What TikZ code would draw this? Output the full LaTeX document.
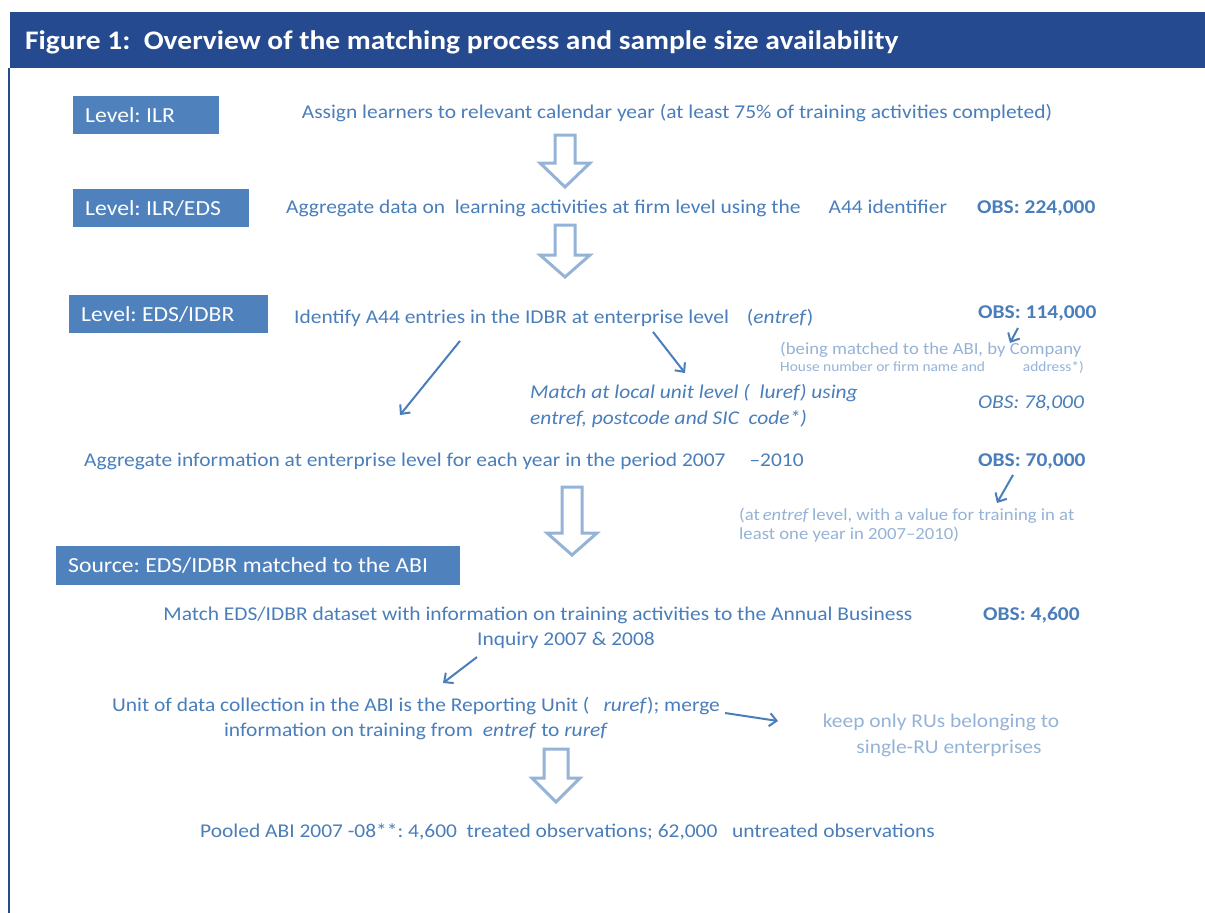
\documentclass[tikz,border=0pt]{standalone}
\usepackage{fontspec}
\setmainfont{Carlito}[FakeStretch=1.1]
\usetikzlibrary{arrows.meta,positioning}
\frenchspacing

\definecolor{headblue}{HTML}{254A8F}
\definecolor{boxblue}{HTML}{4F81BD}
\definecolor{textblue}{HTML}{4A7EBB}
\definecolor{paleblue}{HTML}{95B3D7}

\tikzstyle{level} = [fill=boxblue,text=white,anchor=north west,inner xsep=12pt,inner ysep=0pt,minimum height=38pt,align=flush left,font=\fontsize{21.5}{24}\selectfont]
\tikzstyle{step text} = [text=textblue,inner sep=0pt,font=\fontsize{19.5}{25}\selectfont]
\tikzstyle{obs} = [text=textblue,inner sep=0pt,anchor=west,font=\fontsize{19.5}{23}\selectfont\bfseries]
\tikzstyle{note} = [text=paleblue,inner sep=0pt,font=\fontsize{17}{19}\selectfont]
\tikzstyle{link} = [-{Straight Barb[length=7pt,width=13pt]},line width=2pt,textblue]
\tikzstyle{hollow} = [draw=paleblue,line width=3pt,fill=white,line join=miter]

% block arrow pointing down: x, top, wing, tip, half shaft, half head
\newcommand{\downblock}[6]{%
  \draw[hollow] (#1-#5,#2) -- (#1+#5,#2) -- (#1+#5,#3) -- (#1+#6,#3)
    -- (#1,#4) -- (#1-#6,#3) -- (#1-#5,#3) -- cycle;}

\begin{document}
\begin{tikzpicture}[x=1pt,y=-1pt]
  \useasboundingbox[fill=white] (0,0) rectangle (1205,913);

  % frame
  \node[fill=headblue,anchor=north west,minimum width=1195pt,minimum height=56pt,inner sep=0pt] (header) at (10,12) {};
  \node[anchor=west,text=white,inner sep=0pt,font=\fontsize{26.8}{28}\selectfont\bfseries] (title) at (25,42)
    {Figure 1:\ \ Overview of the matching process and sample size availability};
  \draw[headblue,line width=2pt] (header.south west) ++(-1,0) -- (9,913);

  % levels
  \node[level,text width=122pt] (lilr) at (73,96) {Level: ILR};
  \node[level,text width=152pt] (lilreds) at (73,189) {Level: ILR/EDS};
  \node[level,text width=175pt] (ledsidbr) at (69,295) {Level: EDS/IDBR};
  \node[level,text width=380pt,minimum height=39pt] (source) at (56,546) {Source: EDS/IDBR matched to the ABI};

  % first two steps
  \node[step text] (assign) at (677,113)
    {Assign learners to relevant calendar year (at least 75\% of training activities completed)};
  \downblock{565}{135}{163}{187}{10}{25}
  \node[step text,anchor=west] (aggfirm) at (286,208)
    {Aggregate data on\ \ learning activities at firm level using the\hspace{28pt}A44 identifier};
  \node[obs] (obs1) at (977,208) {OBS: 224,000};
  \downblock{565}{225}{255}{277}{10}{25}

  % enterprise level
  \node[step text,anchor=west] (identify) at (294,318)
    {Identify A44 entries in the IDBR at enterprise level\hspace{18pt}(\textit{entref})};
  \node[obs] (obs2) at (978,313) {OBS: 114,000};
  \node[note,anchor=north west,align=left] (note1) at (780,342)
    {(being matched to the ABI, by Company\\[-2pt]{\fontsize{14}{17}\selectfont House number or firm name and\hspace{38pt}address*)}};
  \node[step text,anchor=north west,align=left,font=\fontsize{19.5}{26}\selectfont\itshape] (match) at (530,384)
    {Match at local unit level (\ \ luref) using\\entref, postcode and SIC\ \ code*)};
  \node[obs,font=\fontsize{19.5}{23}\selectfont\itshape] (obs3) at (978,403) {OBS: 78,000};
  \node[step text,anchor=west] (aggent) at (84,461)
    {Aggregate information at enterprise level for each year in the period 2007\hspace{24pt}--2010};
  \node[obs] (obs4) at (978,461) {OBS: 70,000};
  \node[note,anchor=north west,align=left] (note2) at (739,508)
    {(at\,\textit{entref}\,level, with a value for training in at\\least one year in 2007--2010)};

  \coordinate (toagg) at (400,415);
  \coordinate (tomatch) at (685,373);
  \coordinate (tonote1) at (1010,343);
  \coordinate (tonote2) at (997,503);
  \draw[link] ([shift={(166,14)}]identify.south west) -- (toagg);
  \draw[link] ([shift={(359,5)}]identify.south west) -- (tomatch);
  \draw[link] ([shift={(40,7)}]obs2.south west) -- (tonote1);
  \draw[link] ([shift={(35,6)}]obs4.south west) -- (tonote2);

  \downblock{572}{487}{533}{555}{10}{25}

  % ABI
  \node[step text,align=center] (matchabi) at (538,628)
    {Match EDS/IDBR dataset with information on training activities to the Annual Business\\\hspace*{56pt}Inquiry 2007 \& 2008};
  \node[obs] (obs5) at (983,615) {OBS: 4,600};
  \node[step text,align=center] (unit) at (416,719)
    {Unit of data collection in the ABI is the Reporting Unit (\hspace{14pt}\textit{ruref}); merge\\information on training from\hspace{10pt}\textit{entref} to \textit{ruref}};
  \node[note,align=center,font=\fontsize{19.5}{26}\selectfont] (keep) at (941,735)
    {keep only RUs belonging to\\\hspace*{16pt}single-RU enterprises};

  \coordinate (tounit) at (443,683);
  \coordinate (tokeep) at (778,721);
  \draw[link] ([shift={(-61,8)}]matchabi.south) -- (tounit);
  \draw[link] ([shift={(5,-6)}]unit.east) -- (tokeep);

  \downblock{556}{749}{778}{802}{12}{24}
  \node[step text,anchor=west] (pooled) at (200,832)
    {Pooled ABI 2007 -08**: 4,600\ \ treated observations; 62,000\ \ \ untreated observations};
\end{tikzpicture}
\end{document}
